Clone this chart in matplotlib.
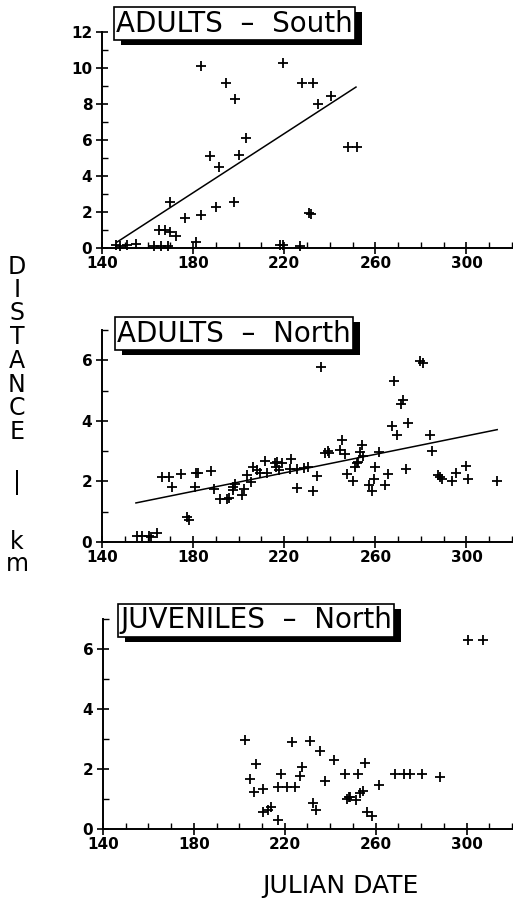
import matplotlib
matplotlib.use("Agg")
import matplotlib.pyplot as plt
from matplotlib import patheffects
from matplotlib.ticker import FixedLocator

# ---------------- data ----------------
south_x = [146, 148, 151, 155, 163, 166, 169, 164.9, 167.8, 170, 172.5, 181.4,
           170, 176.4, 183.4, 190.1, 198, 231.0, 231.8, 187.2, 200.2, 191.2,
           203.2, 183.4, 194.5, 198.6, 219.4, 227.7, 232.5, 234.7, 240.4,
           247.9, 251.8, 218, 219.6, 227]
south_y = [0.15, 0.12, 0.15, 0.22, 0.1, 0.1, 0.1, 1.02, 0.98, 0.89, 0.65, 0.33,
           2.54, 1.69, 1.85, 2.28, 2.57, 1.93, 1.9, 5.09, 5.15, 4.48,
           6.13, 10.1, 9.17, 8.3, 10.3, 9.17, 9.17, 8.0, 8.46,
           5.59, 5.59, 0.15, 0.15, 0.1]
south_fit_x = [146.6, 251.5]
south_fit_y = [0.33, 8.94]

north_x = [155.4, 157.6, 160.5, 161.3, 164.1, 177.3, 178.0, 166.3, 169.2, 174.6,
           181.3, 182.0, 187.8, 170.7, 181.0, 189.0, 191.9, 194.8, 195.6, 197.7,
           198.4, 197.4, 202.2, 201.4, 203.6, 205.5, 206.5, 208.0, 209.4, 212.4,
           211.6, 216.0, 216.8, 216.5, 219.0, 217.5, 223.0, 222.6, 225.5, 228.5,
           230.6, 225.5, 232.5, 234.6, 236.0, 238.0, 239.5, 239.0, 245.3, 244.5,
           246.7, 247.5, 250.4, 251.0, 251.8, 252.5, 254.0, 253.3, 254.8, 257.4,
           258.4, 259.4, 260.0, 261.8, 264.3, 265.7, 267.2, 268.2, 269.4, 271.1,
           272.0, 273.5, 274.2, 279.6, 281.0, 284.0, 285.0, 287.7, 288.4, 289.4,
           293.5, 295.3, 299.7, 300.5, 313.5]
north_y = [0.2, 0.2, 0.2, 0.17, 0.3, 0.83, 0.72, 2.15, 2.15, 2.23,
           2.28, 2.28, 2.33, 1.8, 1.8, 1.76, 1.42, 1.42, 1.45, 1.8,
           1.9, 1.72, 1.74, 1.56, 2.2, 1.97, 2.48, 2.37, 2.29, 2.29,
           2.68, 2.6, 2.65, 2.48, 2.6, 2.37, 2.73, 2.4, 2.42, 2.45,
           2.48, 1.77, 1.7, 2.18, 5.77, 2.94, 2.94, 3.0, 3.36, 3.03,
           2.92, 2.26, 2.0, 2.48, 2.6, 2.65, 3.2, 2.97, 2.85, 1.87,
           1.7, 2.07, 2.48, 2.97, 1.87, 2.26, 3.82, 5.32, 3.53, 4.57,
           4.68, 2.42, 3.94, 5.98, 5.92, 3.54, 3.0, 2.2, 2.15, 2.07,
           2.0, 2.29, 2.51, 2.09, 2.0]
north_fit_x = [154.9, 313.5]
north_fit_y = [1.29, 3.71]

juv_x = [202.4, 204.8, 207.5, 206.5, 210.2, 210.6, 212.7, 213.8, 217.2, 218.5,
         217.2, 220.8, 224.3, 223.3, 227.4, 226.7, 231.1, 232.5, 233.8, 235.5,
         237.7, 241.6, 246.3, 247.2, 248.2, 248.9, 251.5, 252.2, 253.2, 254.4,
         255.5, 256.2, 258.4, 261.3, 268.7, 272.3, 275.2, 280.4, 288.1,
         300.8, 307.4]
juv_y = [2.98, 1.66, 2.18, 1.22, 1.33, 0.56, 0.64, 0.75, 0.31, 1.83,
         1.41, 1.41, 1.41, 2.89, 2.07, 1.76, 2.92, 0.86, 0.64, 2.6,
         1.61, 2.29, 1.82, 0.99, 1.06, 1.08, 0.97, 1.82, 1.19, 1.27,
         2.2, 0.58, 0.42, 1.46, 1.82, 1.82, 1.82, 1.83, 1.72,
         6.31, 6.31]

panel_titles = ["ADULTS  \u2013  South", "ADULTS  \u2013  North", "JUVENILES  \u2013  North"]
x_ticks = [140, 180, 220, 260, 300]
x_minor = list(range(150, 321, 10))
y_ticks_south = [0, 2, 4, 6, 8, 10, 12]
y_minor_south = [1, 3, 5, 7, 9, 11]
y_ticks_north = [0, 2, 4, 6]
y_minor_north = [1, 3, 5, 7]
ylabel_letters = ["D", "I", "S", "T", "A", "N", "C", "E", "|", "k", "m"]
xlabel = "JULIAN DATE"

# ---------------- figure ----------------
W, H = 513, 902
fig = plt.figure(figsize=(W / 100, H / 100), dpi=100)

def px_axes(left, top, right, bottom):
    return fig.add_axes([left / W, 1 - bottom / H, (right - left) / W, (bottom - top) / H])

ax1 = px_axes(102, 32, 512, 248)
ax2 = px_axes(102, 330, 512, 542)
ax3 = px_axes(103, 619, 512, 829)

def style(ax, ymax, yt, ym):
    ax.set_xlim(140, 320)
    ax.set_ylim(0, ymax)
    for s in ["top", "right"]:
        ax.spines[s].set_visible(False)
    for s in ["left", "bottom"]:
        ax.spines[s].set_linewidth(1.4)
        ax.spines[s].set_color("black")
    ax.xaxis.set_major_locator(FixedLocator(x_ticks))
    ax.xaxis.set_minor_locator(FixedLocator(x_minor))
    ax.yaxis.set_major_locator(FixedLocator(yt))
    ax.yaxis.set_minor_locator(FixedLocator(ym))
    ax.tick_params(axis="both", which="major", direction="inout", length=8, width=1.2,
                   labelsize=11, pad=2)
    ax.tick_params(axis="both", which="minor", direction="in", length=4, width=1.0)
    ax.tick_params(axis="y", which="major", pad=3)
    for lab in ax.get_xticklabels() + ax.get_yticklabels():
        lab.set_fontweight("bold")
    ax.set_facecolor("none")

style(ax1, 12, y_ticks_south, y_minor_south)
style(ax2, 7, y_ticks_north, y_minor_north)
style(ax3, 7, y_ticks_north, y_minor_north)

mk = dict(marker="+", linestyle="none", color="black", ms=6.5, mew=1.3, clip_on=False)
ax1.plot(south_x, south_y, **mk)
ax1.plot(south_fit_x, south_fit_y, color="black", lw=1.1)
ax2.plot(north_x, north_y, **mk)
ax2.plot(north_fit_x, north_fit_y, color="black", lw=1.1)
ax3.plot(juv_x, juv_y, **mk)

# titles with drop-shadow boxes
title_pos = [(116, 23.5), (117, 333.5), (120, 620.5)]
for (tx, ty), title in zip(title_pos, panel_titles):
    t = fig.text(tx / W, 1 - ty / H, title, fontsize=20, ha="left", va="center",
                 family="DejaVu Sans",
                 bbox=dict(boxstyle="square,pad=0.08", facecolor="white",
                           edgecolor="black", linewidth=1.2))
    t.get_bbox_patch().set_path_effects([
        patheffects.SimplePatchShadow(offset=(5, -3.5), shadow_rgbFace="black", alpha=1.0),
        patheffects.Normal()])

# stacked y label
ylabel_y = [267, 290, 313, 337, 361, 385, 408, 432, 482, 542, 564]
for ch, yy in zip(ylabel_letters, ylabel_y):
    fig.text(17 / W, 1 - yy / H, ch, fontsize=17, ha="center", va="center",
             family="DejaVu Sans")

fig.text(340 / W, 1 - 886 / H, xlabel, fontsize=18, ha="center", va="center",
         family="DejaVu Sans")

fig.savefig("out.png", dpi=100)
